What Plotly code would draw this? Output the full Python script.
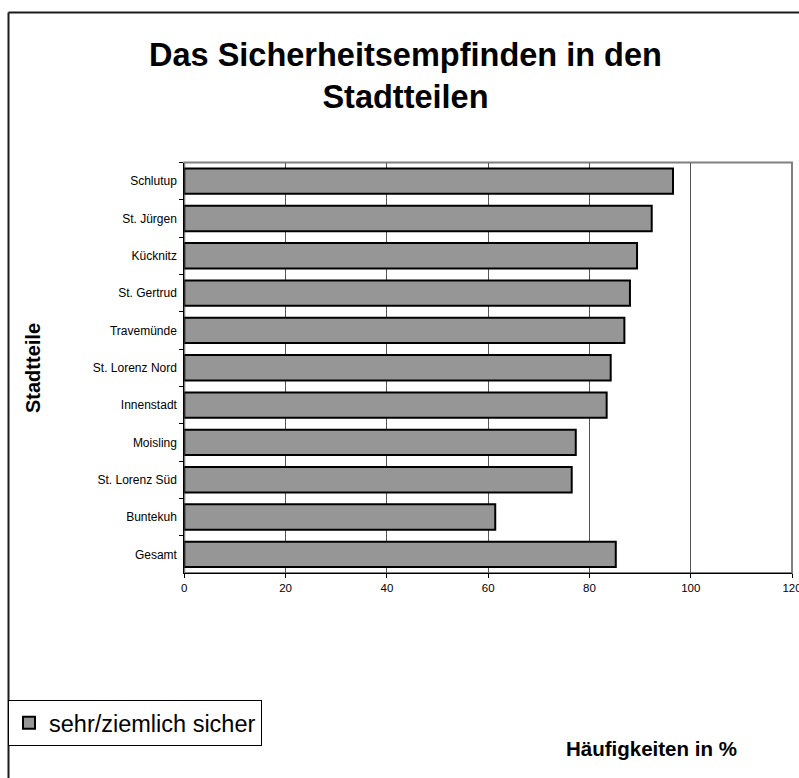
import plotly.graph_objects as go

# Survey results: share of residents feeling "very/fairly safe" per district (%)
stadtteile = [
    "Schlutup", "St. Jürgen", "Kücknitz", "St. Gertrud", "Travemünde",
    "St. Lorenz Nord", "Innenstadt", "Moisling", "St. Lorenz Süd",
    "Buntekuh", "Gesamt",
]
sicher_anteil = [96.5, 92.3, 89.4, 88.0, 86.9, 84.2, 83.4, 77.3, 76.5, 61.4, 85.2]
serie_name = "sehr/ziemlich sicher"
x_ticks = [0, 20, 40, 60, 80, 100, 120]

W, H = 799, 778
FONT = "Liberation Sans, Arial, sans-serif"


def px_x(p):
    return p / W


def px_y(p):
    return 1 - p / H


fig = go.Figure(
    go.Bar(
        x=sicher_anteil,
        y=stadtteile,
        orientation="h",
        name=serie_name,
        marker=dict(color="#969696", line=dict(color="#000000", width=2)),
        showlegend=True,
    )
)

fig.update_layout(
    width=W,
    height=H,
    margin=dict(l=0, r=0, t=0, b=0, autoexpand=False),
    paper_bgcolor="white",
    plot_bgcolor="white",
    bargap=0.32,
    font=dict(family=FONT, color="#000000"),
    xaxis=dict(
        domain=[px_x(184.3), px_x(792)],
        range=[0, 120],
        tickmode="array",
        tickvals=x_ticks,
        ticktext=[str(v) for v in x_ticks],
        ticklabeloverflow="allow",
        tickfont=dict(size=11.5, family=FONT),
        showgrid=True,
        gridcolor="#555555",
        gridwidth=1,
        zeroline=False,
        showline=True,
        linecolor="#000000",
        linewidth=1,
        ticks="outside",
        ticklen=4,
        tickcolor="#000000",
        fixedrange=True,
    ),
    yaxis=dict(
        domain=[px_y(573), px_y(162.5)],
        autorange="reversed",
        categoryorder="array",
        categoryarray=stadtteile,
        tickfont=dict(size=12, family=FONT),
        showgrid=False,
        showline=True,
        linecolor="#000000",
        linewidth=1,
        ticks="outside",
        tickson="boundaries",
        ticklen=4,
        tickcolor="#000000",
        ticklabelstandoff=4,
        fixedrange=True,
    ),
    legend=dict(
        x=px_x(8),
        y=px_y(700),
        xanchor="left",
        yanchor="top",
        bgcolor="white",
        bordercolor="#000000",
        borderwidth=1,
        font=dict(size=23.5, family=FONT),
        itemwidth=30,
        tracegroupgap=0,
    ),
    annotations=[
        dict(
            text="<b>Das Sicherheitsempfinden in den<br>Stadtteilen</b>",
            x=px_x(405), y=px_y(76), xref="paper", yref="paper",
            xanchor="center", yanchor="middle", showarrow=False,
            font=dict(size=32.5, family=FONT),
        ),
        dict(
            text="<b>Stadtteile</b>",
            x=px_x(33), y=px_y(368), xref="paper", yref="paper",
            xanchor="center", yanchor="middle", showarrow=False,
            textangle=-90,
            font=dict(size=20, family=FONT),
        ),
        dict(
            text="<b>Häufigkeiten in %</b>",
            x=px_x(651), y=px_y(748), xref="paper", yref="paper",
            xanchor="center", yanchor="middle", showarrow=False,
            font=dict(size=20.5, family=FONT),
        ),
    ],
    shapes=[
        # grey frame around the plotting area
        dict(type="rect", xref="x domain", yref="y domain",
             x0=0, x1=1, y0=0, y1=1,
             line=dict(color="#808080", width=2), layer="below"),
        # outer chart border (left and top edges)
        dict(type="line", xref="paper", yref="paper",
             x0=px_x(8.5), x1=px_x(8.5), y0=0, y1=px_y(12.5),
             line=dict(color="#1a1a1a", width=2)),
        dict(type="line", xref="paper", yref="paper",
             x0=px_x(8.5), x1=1, y0=px_y(12.5), y1=px_y(12.5),
             line=dict(color="#1a1a1a", width=2)),
    ],
)

fig.write_html("out.html", config={"displayModeBar": False})
